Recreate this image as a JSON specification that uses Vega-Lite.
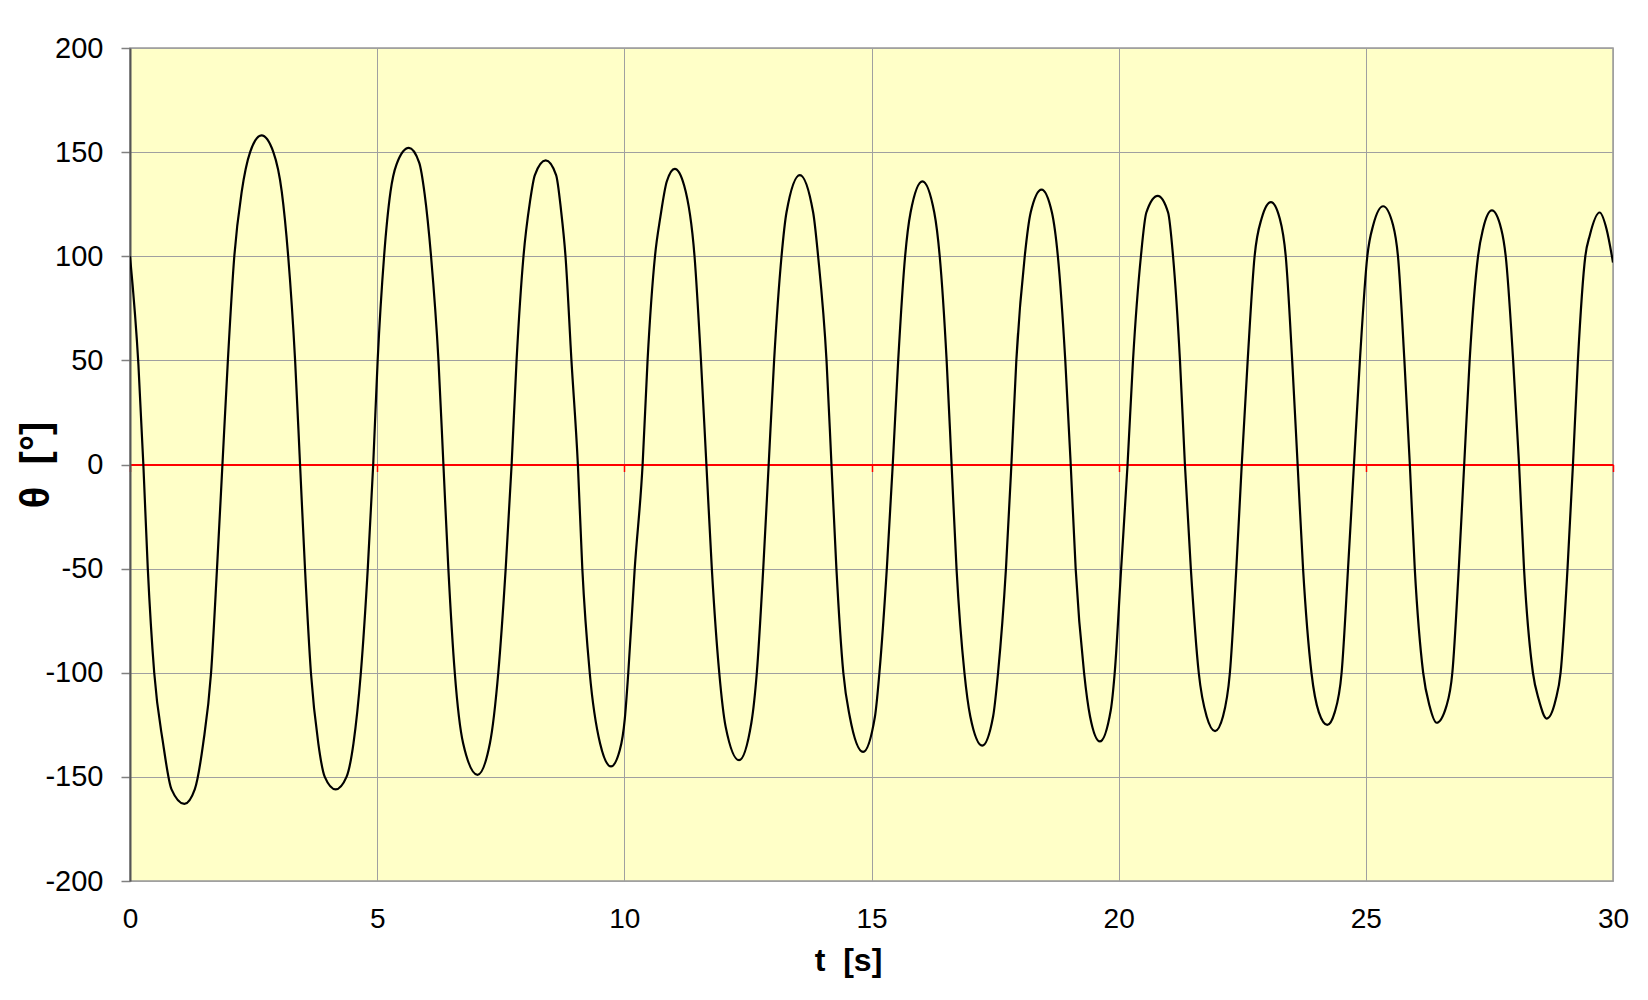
{
  "$schema": "https://vega.github.io/schema/vega-lite/v6.json",
  "autosize": {"type": "none"},
  "width": 1483,
  "height": 833,
  "padding": {"left": 130, "top": 48, "right": 35, "bottom": 119},
  "background": "#ffffff",
  "config": {
    "view": {"fill": "#FFFFC8", "stroke": "#999999", "strokeWidth": 1.5},
    "font": "Liberation Sans"
  },
  "data": {
    "values": [
      {"t": 0, "theta": 100}, {"t": 0.17, "theta": 48}, {"t": 0.27, "theta": 0}, {"t": 0.36, "theta": -50},
      {"t": 0.49, "theta": -100}, {"t": 0.67, "theta": -134}, {"t": 0.84, "theta": -156}, {"t": 1.1, "theta": -163},
      {"t": 1.31, "theta": -156}, {"t": 1.48, "theta": -134}, {"t": 1.64, "theta": -100}, {"t": 1.76, "theta": -50},
      {"t": 1.87, "theta": 0}, {"t": 1.98, "theta": 50}, {"t": 2.11, "theta": 100}, {"t": 2.26, "theta": 131},
      {"t": 2.43, "theta": 150}, {"t": 2.66, "theta": 158}, {"t": 2.9, "theta": 150}, {"t": 3.07, "theta": 131},
      {"t": 3.2, "theta": 100}, {"t": 3.34, "theta": 50}, {"t": 3.44, "theta": 0}, {"t": 3.54, "theta": -50},
      {"t": 3.66, "theta": -100}, {"t": 3.81, "theta": -134}, {"t": 3.94, "theta": -150}, {"t": 4.16, "theta": -156},
      {"t": 4.38, "theta": -150}, {"t": 4.52, "theta": -134}, {"t": 4.67, "theta": -100}, {"t": 4.81, "theta": -50},
      {"t": 4.92, "theta": 0}, {"t": 5.01, "theta": 50}, {"t": 5.14, "theta": 100}, {"t": 5.27, "theta": 131},
      {"t": 5.39, "theta": 144}, {"t": 5.64, "theta": 152}, {"t": 5.85, "theta": 145}, {"t": 5.96, "theta": 130},
      {"t": 6.09, "theta": 100}, {"t": 6.24, "theta": 50}, {"t": 6.34, "theta": 0}, {"t": 6.44, "theta": -50},
      {"t": 6.57, "theta": -100}, {"t": 6.74, "theta": -134}, {"t": 7.03, "theta": -149}, {"t": 7.28, "theta": -134},
      {"t": 7.45, "theta": -100}, {"t": 7.6, "theta": -50}, {"t": 7.72, "theta": 0}, {"t": 7.82, "theta": 50},
      {"t": 7.96, "theta": 100}, {"t": 8.09, "theta": 126}, {"t": 8.19, "theta": 139}, {"t": 8.41, "theta": 146},
      {"t": 8.62, "theta": 139}, {"t": 8.72, "theta": 122}, {"t": 8.81, "theta": 100}, {"t": 8.93, "theta": 50},
      {"t": 9.06, "theta": 0}, {"t": 9.15, "theta": -50}, {"t": 9.3, "theta": -100}, {"t": 9.51, "theta": -134},
      {"t": 9.73, "theta": -145}, {"t": 9.91, "theta": -137}, {"t": 10.01, "theta": -122}, {"t": 10.08, "theta": -100},
      {"t": 10.21, "theta": -50}, {"t": 10.37, "theta": 0}, {"t": 10.47, "theta": 50}, {"t": 10.62, "theta": 100},
      {"t": 10.73, "theta": 119}, {"t": 10.86, "theta": 136}, {"t": 11.02, "theta": 142}, {"t": 11.21, "theta": 134},
      {"t": 11.42, "theta": 100}, {"t": 11.55, "theta": 50}, {"t": 11.66, "theta": 0}, {"t": 11.77, "theta": -50},
      {"t": 11.92, "theta": -100}, {"t": 12.05, "theta": -126}, {"t": 12.32, "theta": -142}, {"t": 12.57, "theta": -124},
      {"t": 12.68, "theta": -100}, {"t": 12.81, "theta": -50}, {"t": 12.92, "theta": 0}, {"t": 13.03, "theta": 50},
      {"t": 13.18, "theta": 100}, {"t": 13.28, "theta": 121}, {"t": 13.55, "theta": 139}, {"t": 13.82, "theta": 121},
      {"t": 13.92, "theta": 100}, {"t": 14.09, "theta": 50}, {"t": 14.19, "theta": 0}, {"t": 14.29, "theta": -50},
      {"t": 14.43, "theta": -100}, {"t": 14.56, "theta": -121}, {"t": 14.83, "theta": -138}, {"t": 15.07, "theta": -121},
      {"t": 15.16, "theta": -100}, {"t": 15.31, "theta": -50}, {"t": 15.43, "theta": 0}, {"t": 15.54, "theta": 50},
      {"t": 15.68, "theta": 100}, {"t": 15.79, "theta": 121}, {"t": 16.03, "theta": 136}, {"t": 16.27, "theta": 121},
      {"t": 16.38, "theta": 100}, {"t": 16.52, "theta": 50}, {"t": 16.62, "theta": 0}, {"t": 16.72, "theta": -50},
      {"t": 16.88, "theta": -100}, {"t": 17.0, "theta": -121}, {"t": 17.24, "theta": -135}, {"t": 17.46, "theta": -121},
      {"t": 17.56, "theta": -100}, {"t": 17.72, "theta": -50}, {"t": 17.83, "theta": 0}, {"t": 17.93, "theta": 50},
      {"t": 18.1, "theta": 100}, {"t": 18.22, "theta": 121}, {"t": 18.44, "theta": 132}, {"t": 18.65, "theta": 121},
      {"t": 18.77, "theta": 100}, {"t": 18.92, "theta": 50}, {"t": 19.03, "theta": 0}, {"t": 19.13, "theta": -50},
      {"t": 19.3, "theta": -100}, {"t": 19.42, "theta": -121}, {"t": 19.62, "theta": -133}, {"t": 19.84, "theta": -118},
      {"t": 19.92, "theta": -100}, {"t": 20.05, "theta": -50}, {"t": 20.18, "theta": 0}, {"t": 20.29, "theta": 50},
      {"t": 20.45, "theta": 100}, {"t": 20.56, "theta": 121}, {"t": 20.79, "theta": 129}, {"t": 21.0, "theta": 121},
      {"t": 21.1, "theta": 100}, {"t": 21.24, "theta": 50}, {"t": 21.34, "theta": 0}, {"t": 21.46, "theta": -50},
      {"t": 21.62, "theta": -100}, {"t": 21.78, "theta": -121}, {"t": 21.95, "theta": -128}, {"t": 22.11, "theta": -121},
      {"t": 22.25, "theta": -100}, {"t": 22.38, "theta": -50}, {"t": 22.49, "theta": 0}, {"t": 22.61, "theta": 50},
      {"t": 22.75, "theta": 100}, {"t": 22.89, "theta": 118}, {"t": 23.08, "theta": 126}, {"t": 23.26, "theta": 118},
      {"t": 23.38, "theta": 100}, {"t": 23.51, "theta": 50}, {"t": 23.62, "theta": 0}, {"t": 23.73, "theta": -50},
      {"t": 23.9, "theta": -100}, {"t": 24.05, "theta": -119}, {"t": 24.22, "theta": -125}, {"t": 24.37, "theta": -119},
      {"t": 24.51, "theta": -100}, {"t": 24.64, "theta": -50}, {"t": 24.76, "theta": 0}, {"t": 24.88, "theta": 50},
      {"t": 25.03, "theta": 100}, {"t": 25.15, "theta": 115}, {"t": 25.35, "theta": 124}, {"t": 25.55, "theta": 115},
      {"t": 25.65, "theta": 100}, {"t": 25.78, "theta": 50}, {"t": 25.89, "theta": 0}, {"t": 25.99, "theta": -50},
      {"t": 26.16, "theta": -100}, {"t": 26.29, "theta": -116}, {"t": 26.43, "theta": -124}, {"t": 26.63, "theta": -116},
      {"t": 26.75, "theta": -100}, {"t": 26.88, "theta": -50}, {"t": 26.99, "theta": 0}, {"t": 27.1, "theta": 50},
      {"t": 27.27, "theta": 100}, {"t": 27.37, "theta": 113}, {"t": 27.55, "theta": 122}, {"t": 27.74, "theta": 113},
      {"t": 27.83, "theta": 100}, {"t": 27.98, "theta": 50}, {"t": 28.1, "theta": 0}, {"t": 28.2, "theta": -50},
      {"t": 28.38, "theta": -100}, {"t": 28.5, "theta": -113}, {"t": 28.66, "theta": -122}, {"t": 28.84, "theta": -113},
      {"t": 28.94, "theta": -100}, {"t": 29.08, "theta": -50}, {"t": 29.19, "theta": 0}, {"t": 29.29, "theta": 50},
      {"t": 29.44, "theta": 100}, {"t": 29.53, "theta": 110}, {"t": 29.73, "theta": 121}, {"t": 29.87, "theta": 113},
      {"t": 30.0, "theta": 97}
    ]
  },
  "mark": {"type": "line", "interpolate": "monotone", "color": "#000000", "strokeWidth": 2.2, "clip": true},
  "encoding": {
    "x": {
      "field": "t",
      "type": "quantitative",
      "scale": {"domain": [0, 30], "nice": false, "zero": false},
      "axis": {
        "values": [0, 5, 10, 15, 20, 25, 30],
        "offset": -416.5,
        "domainColor": "#FF0000",
        "domainWidth": 1.8,
        "tickColor": "#FF0000",
        "tickWidth": 1.5,
        "tickSize": 7,
        "grid": true,
        "gridColor": "#A0A0A0",
        "gridWidth": 1,
        "gridOpacity": 1,
        "labelFont": "Liberation Sans",
        "labelFontSize": 28,
        "labelColor": "#000000",
        "labelPadding": 434,
        "labelFlush": false,
        "labelOverlap": false,
        "labelExpr": "datum.value + ''",
        "title": "t\u00a0\u00a0[s]",
        "titleFont": "Liberation Sans",
        "titleFontSize": 32,
        "titleFontWeight": "bold",
        "titleColor": "#000000",
        "titleBaseline": "top",
        "titleAlign": "center",
        "titleX": 718,
        "titleY": 481
      }
    },
    "y": {
      "field": "theta",
      "type": "quantitative",
      "scale": {"domain": [-200, 200], "nice": false, "zero": false},
      "axis": {
        "values": [-200, -150, -100, -50, 0, 50, 100, 150, 200],
        "domainColor": "#555555",
        "domainWidth": 2,
        "tickColor": "#808080",
        "tickWidth": 1.5,
        "tickSize": 9,
        "grid": true,
        "gridColor": "#A0A0A0",
        "gridWidth": 1,
        "gridOpacity": 1,
        "labelFont": "Liberation Sans",
        "labelFontSize": 29,
        "labelColor": "#000000",
        "labelPadding": 18,
        "labelFlush": false,
        "labelOverlap": false,
        "labelExpr": "datum.value + ''",
        "title": "θ\u00a0\u00a0[°]",
        "titleFont": "Liberation Sans",
        "titleFontSize": 40,
        "titleFontWeight": "bold",
        "titleColor": "#000000",
        "titlePadding": -12
      }
    }
  }
}
